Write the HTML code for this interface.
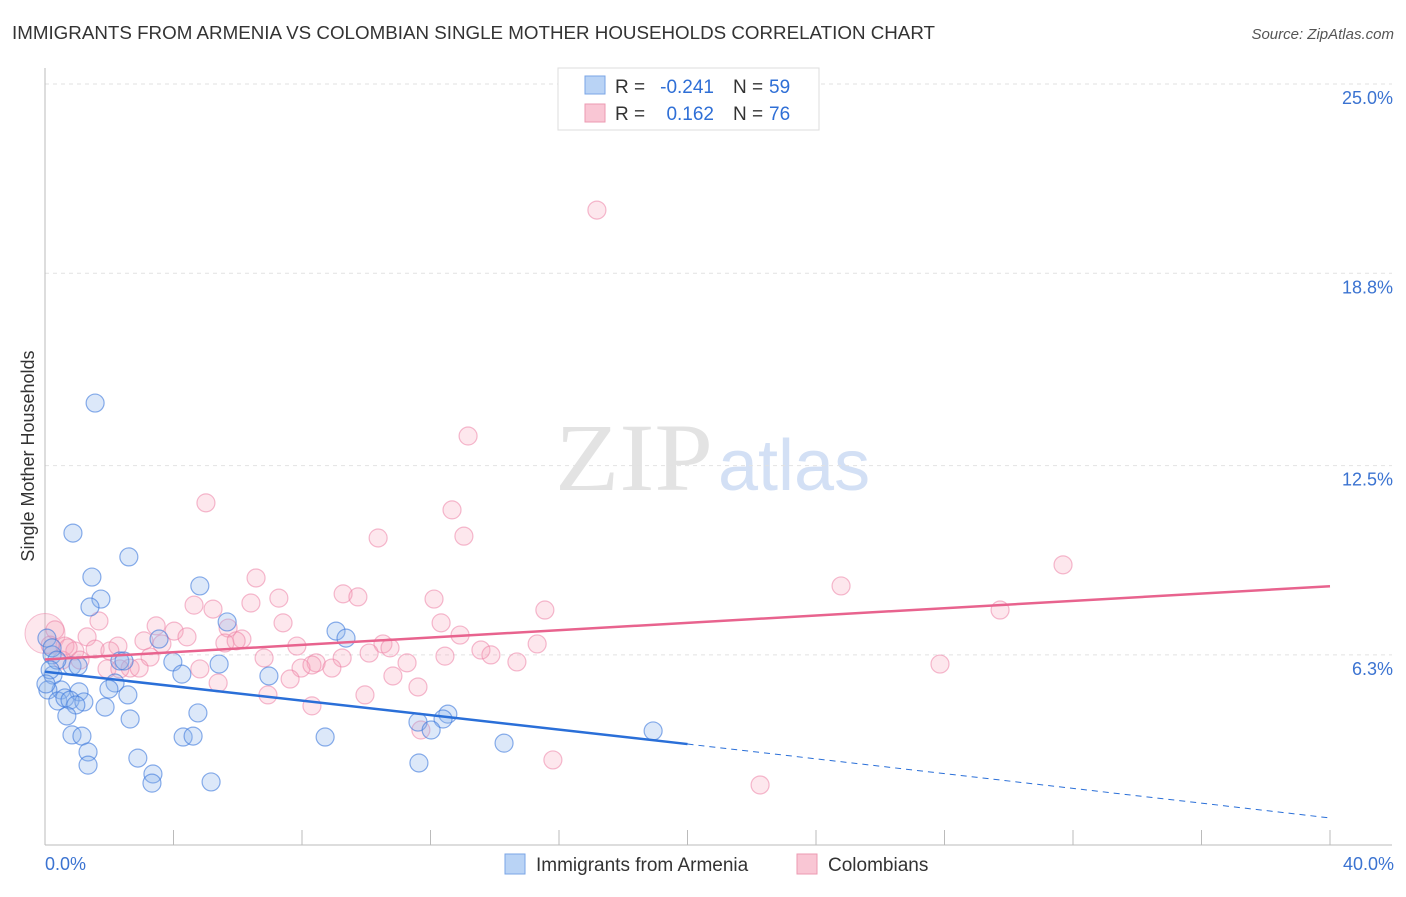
<!DOCTYPE html>
<html><head><meta charset="utf-8"><style>
body{margin:0;background:#fff;font-family:"Liberation Sans",sans-serif;}
</style></head><body>
<svg id="chart" width="1406" height="892" xmlns="http://www.w3.org/2000/svg" font-family="Liberation Sans, sans-serif">
<text x="12" y="39" font-size="18" fill="#333" textLength="923" lengthAdjust="spacingAndGlyphs">IMMIGRANTS FROM ARMENIA VS COLOMBIAN SINGLE MOTHER HOUSEHOLDS CORRELATION CHART</text>
<text x="1394" y="39" font-size="15" fill="#555" text-anchor="end" font-style="italic">Source: ZipAtlas.com</text>
<text x="555" y="490" font-size="96" fill="#e3e3e3" textLength="158" lengthAdjust="spacingAndGlyphs" font-family="Liberation Serif, serif">ZIP</text>
<text x="718" y="490" font-size="72" fill="#d3e0f5">atlas</text>
<g id="grid"></g>
<g id="axes"></g>
<g id="pts"></g>
<g id="lines"></g>
<text transform="translate(34,456) rotate(-90)" font-size="18" fill="#333" text-anchor="middle">Single Mother Households</text>
<text x="45" y="870" font-size="18" fill="#3b73d1">0.0%</text>
<text x="1394" y="870" font-size="18" fill="#3b73d1" text-anchor="end">40.0%</text>
<g>
<rect x="558" y="68" width="261" height="62" fill="#fff" stroke="#ddd"/>
<rect x="585" y="76" width="20" height="18" fill="#b9d3f5" stroke="#7aa5e6"/>
<rect x="585" y="104" width="20" height="18" fill="#f9c6d4" stroke="#ec9ab2"/>
<text x="615" y="93" font-size="19" fill="#333">R =</text>
<text x="714" y="93" font-size="19" fill="#2f6fd6" text-anchor="end">-0.241</text>
<text x="733" y="93" font-size="19" fill="#333">N =</text>
<text x="769" y="93" font-size="19" fill="#2f6fd6">59</text>
<text x="615" y="120" font-size="19" fill="#333">R =</text>
<text x="714" y="120" font-size="19" fill="#2f6fd6" text-anchor="end">0.162</text>
<text x="733" y="120" font-size="19" fill="#333">N =</text>
<text x="769" y="120" font-size="19" fill="#2f6fd6">76</text>
</g>
<g>
<rect x="505" y="854" width="20" height="20" fill="#b9d3f5" stroke="#7aa5e6"/>
<text x="536" y="871" font-size="19" fill="#333">Immigrants from Armenia</text>
<rect x="797" y="854" width="20" height="20" fill="#f9c6d4" stroke="#ec9ab2"/>
<text x="828" y="871" font-size="19" fill="#333">Colombians</text>
</g>
</svg>
<script>
const yTicks=[25.0,18.8,12.5,6.3];
const yTickLabels=["25.0%","18.8%","12.5%","6.3%"];
const bluePx=[[95,403],[73,533],[129,557],[92,577],[200,586],[101,599],[90,607],[227,622],[336,631],[346,638],[159,639],[47,638],[52,655],[173,662],[219,664],[120,661],[124,661],[72,666],[78,666],[53,675],[182,674],[269,676],[115,683],[109,689],[79,692],[128,695],[61,690],[48,690],[58,701],[65,698],[70,700],[84,702],[76,705],[105,707],[67,716],[198,713],[130,719],[448,714],[418,722],[443,719],[431,730],[72,735],[82,736],[183,737],[193,736],[325,737],[504,743],[653,731],[88,752],[138,758],[88,765],[153,774],[152,783],[211,782],[419,763],[52,648],[57,660],[50,670],[46,684]];
const pinkPx=[[597,210],[468,436],[206,503],[452,510],[378,538],[464,536],[1063,565],[256,578],[841,586],[343,594],[279,598],[358,597],[194,605],[251,603],[434,599],[213,609],[545,610],[1000,610],[156,626],[99,621],[283,623],[441,623],[174,631],[187,637],[228,628],[242,639],[87,637],[144,641],[162,644],[118,646],[225,643],[236,641],[460,635],[383,644],[390,648],[537,644],[297,646],[369,653],[481,650],[491,655],[445,656],[55,630],[65,646],[75,651],[95,649],[110,651],[150,657],[264,658],[342,658],[316,663],[407,663],[517,662],[301,668],[332,668],[940,664],[312,665],[130,668],[139,668],[200,669],[107,669],[120,669],[393,676],[290,679],[218,683],[418,687],[365,695],[268,695],[312,706],[421,730],[553,760],[760,785],[62,660],[80,660],[68,648],[50,645]];
const blueX=bluePx.map(p=>+((p[0]-45)/1285*40).toFixed(2));
const blueY=bluePx.map(p=>+(25-(p[1]-84)/30.53).toFixed(2));
const pinkX=pinkPx.map(p=>+((p[0]-45)/1285*40).toFixed(2));
const pinkY=pinkPx.map(p=>+(25-(p[1]-84)/30.53).toFixed(2));
const bigPink=[[0,7.0]];
const blueTrend=[[0,5.75],[20,3.38],[40,0.96]];
const pinkTrend=[[0,6.15],[40,8.55]];
const X=v=>45+v/40*1285, Y=v=>84+(25-v)*30.53;
const NS="http://www.w3.org/2000/svg";
function mk(t,a,parent){const e=document.createElementNS(NS,t);for(const k in a)e.setAttribute(k,a[k]);document.getElementById(parent).appendChild(e);return e;}
yTicks.forEach((t,i)=>{
 const l=mk('line',{x1:45,x2:1392,y1:Y(t),y2:Y(t),stroke:'#e2e2e2','stroke-dasharray':'4,4'},'grid');
 
 
 const tx=mk('text',{x:1393,y:Y(t)+20,'font-size':18,fill:'#3b73d1','text-anchor':'end'},'grid');
 tx.textContent=yTickLabels[i];
 
 
});
let a=mk('line',{x1:45,x2:45,y1:68,y2:845,stroke:'#bbb'},'axes');


a=mk('line',{x1:45,x2:1392,y1:845,y2:845,stroke:'#bbb'},'axes');


for(let i=1;i<=10;i++){const t=mk('line',{x1:X(i*4),x2:X(i*4),y1:830,y2:845,stroke:'#bbb'},'axes');
 
 }
const c1=mk('circle',{cx:X(bigPink[0][0]),cy:Y(bigPink[0][1]),r:20,fill:'rgba(246,160,185,0.25)',stroke:'rgba(236,130,165,0.5)'},'pts');


pinkX.forEach((x,i)=>{const c=mk('circle',{cx:X(x),cy:Y(pinkY[i]),r:9,fill:'rgba(246,160,185,0.25)',stroke:'rgba(236,130,165,0.55)','stroke-width':1.2},'pts');
 
 });
blueX.forEach((x,i)=>{const c=mk('circle',{cx:X(x),cy:Y(blueY[i]),r:9,fill:'rgba(140,180,235,0.3)',stroke:'rgba(60,120,220,0.6)','stroke-width':1.2},'pts');
 
 });
let l=mk('line',{x1:X(pinkTrend[0][0]),y1:Y(pinkTrend[0][1]),x2:X(pinkTrend[1][0]),y2:Y(pinkTrend[1][1]),stroke:'#e8638e','stroke-width':2.5},'lines');


l=mk('line',{x1:X(blueTrend[0][0]),y1:Y(blueTrend[0][1]),x2:X(blueTrend[1][0]),y2:Y(blueTrend[1][1]),stroke:'#2a6fd8','stroke-width':2.5},'lines');


l=mk('line',{x1:X(blueTrend[1][0]),y1:Y(blueTrend[1][1]),x2:X(blueTrend[2][0]),y2:Y(blueTrend[2][1]),stroke:'#2a6fd8','stroke-width':1,'stroke-dasharray':'6,5'},'lines');


</script>
</body></html>
